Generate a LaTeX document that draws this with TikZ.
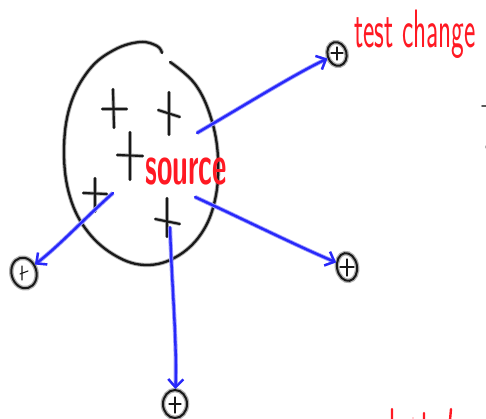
\documentclass[tikz,border=0pt]{standalone}
\usepackage{graphicx}
\usetikzlibrary{shapes.geometric,arrows.meta}
\definecolor{pen}{RGB}{25,25,25}
\definecolor{bluepen}{RGB}{40,40,250}
\definecolor{redpen}{RGB}{255,25,35}
\begin{document}
\begin{tikzpicture}[x=1pt,y=-1pt,
 ink/.style={draw=pen,line width=2.3pt,line cap=round,line join=round,preaction={draw=gray!60,line width=4.2pt}},
 plusmark/.style={draw=pen,line width=2.1pt,line cap=round,preaction={draw=gray!60,line width=3.8pt}},
 small/.style={draw=pen,line width=1.1pt,line cap=round},
 target/.style={ellipse,draw=pen,line width=2pt,inner sep=0pt,preaction={draw=gray!60,line width=4.6pt}},
 flow/.style={draw=bluepen,line width=2.4pt,line cap=round,line join=round,preaction={draw=bluepen!45,line width=4.2pt}},
 tip/.style={-{Straight Barb[length=8pt,width=15pt,line width=2.4pt]}},
 lbl/.style={text=redpen,font=\sffamily\bfseries,inner sep=0pt}]
\useasboundingbox (0,0) rectangle (486,419);
% blob
\draw[ink] plot[smooth,tension=0.65] coordinates {(170,62) (195,84) (211,118) (218,158) (215,200) (201,234) (176,257) (146,265) (116,256) (88,232) (70,197) (64,152) (70,106) (89,70) (114,50) (140,42) (157,46) (162,53)};
% plus marks in the blob
\draw[plusmark] (102,109) -- (127,109) (113,89) -- (114,128);
\draw[plusmark] (158,110) -- (180,117) (169,92) -- (169,135);
\draw[plusmark] (117,155) -- (143,156) (130,132) -- (130,180);
\draw[plusmark] (83,193) -- (107,194) (95,178) -- (95,212);
\draw[plusmark] (155,219) -- (180,224) (167,198) -- (167,237);
% labels
\node[lbl,anchor=base west] (src) at (145,185) {\scalebox{0.5}[1]{\fontsize{56}{56}\selectfont source}};
\node[lbl,anchor=base west,font=\sffamily] (tc) at (354,48) {\scalebox{0.5}[1]{\fontsize{54}{54}\selectfont test change}};
% targets
\node[target,minimum width=19pt,minimum height=24pt,rotate=15] (t1) at (337,54) {};
\node[target,minimum width=25pt,minimum height=31pt,rotate=15] (t2) at (24,273) {};
\node[target,minimum width=20pt,minimum height=28pt,rotate=10] (t3) at (347,267) {};
\node[target,minimum width=24pt,minimum height=28pt] (t4) at (175,404) {};
\draw[small] (331,53) -- (343,53) (337,47) -- (337,60);
\draw[small] (20,274) -- (28,271) (22,266) -- (22,280);
\draw[small] (340,267) -- (354,267) (347,259) -- (347,276);
\draw[small] (169,404) -- (181,404) (175,397) -- (175,413);
% connector start points
\coordinate (s1) at (197,133);
\coordinate (s2) at (113,193);
\coordinate (s3) at (195,197);
\coordinate (s4) at (170,227);
\draw[flow,tip] (s1) .. controls (250,102) and (295,74) .. (t1);
\draw[flow,tip] (s2) .. controls (85,218) and (60,245) .. (t2);
\draw[flow,tip] (s3) .. controls (245,220) and (295,245) .. (t3);
\draw[flow,tip] (s4) .. controls (172,290) and (177,340) .. (t4);
% stray marks at the right edge
\draw[draw=gray!70!black,line width=1.6pt,line cap=round] (482,106) -- (486,106);
\draw[draw=gray!60,line width=1pt,line cap=round] (485,146) -- (485,148);
% cut-off red strokes at the bottom right
\draw[redpen,line width=2.4pt,line cap=round] (392,409) -- (392,420) (424,413) -- (424,420) (451,409) -- (450,420);
\fill[redpen!40] (413,418) circle (0.8);
\end{tikzpicture}
\end{document}
